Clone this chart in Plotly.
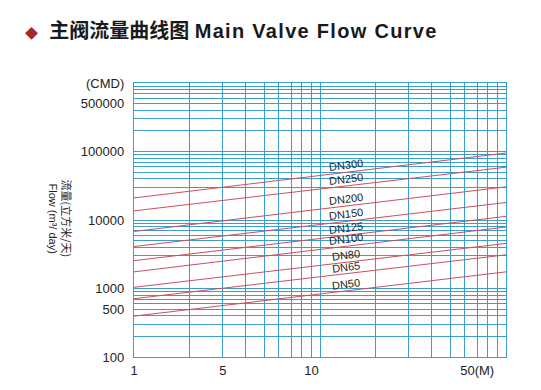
import plotly.graph_objects as go
import numpy as np

# ---- data ----
series_names = ["DN300", "DN250", "DN200", "DN150", "DN125", "DN100", "DN80", "DN65", "DN50"]
x_ends = [1, 100]
flow_start = [21000, 13600, 6800, 4100, 2550, 1750, 1040, 710, 395]     # flow at x = 1
flow_end = [95000, 59000, 30500, 18000, 11300, 7900, 4550, 3100, 1750]  # flow at x = 100

y_tick_vals = [100, 500, 1000, 10000, 100000, 500000, 1000000]
y_tick_text = ["100", "500", "1000", "10000", "100000", "500000", "(CMD)"]
# positions at which the reference prints its x labels
x_tick_vals = [1, 3, 9, 70]
x_tick_text = ["1", "5", "10", "50(M)"]

x_grid = [1, 2, 3, 4, 5, 6, 7, 8, 9, 10, 20, 30, 40, 50, 60, 70, 80, 90, 100]
y_grid = [100, 200, 300, 400, 500, 600, 700, 800, 900,
          1000, 3000, 4000, 5000, 6000, 7000, 8000, 9000,
          10000, 30000, 40000, 50000, 60000, 70000, 80000, 90000,
          100000, 200000, 300000, 400000, 500000, 600000, 700000, 800000, 900000, 1000000]

label_x = 13.8

title_cn = "主阀流量曲线图"
title_en = "Main Valve Flow Curve"
ytitle_cn = "流量(立方米/天)"
ytitle_en = "Flow (m³/ day)"

GRID = "#3b9dcb"
LINE = "#c9505e"
FONT = "Liberation Sans, Arial, Noto Sans CJK SC, sans-serif"

# page geometry (the page body adds an 8px offset)
OFF = 8
PX0, PX1, PY0, PY1 = 134, 506, 83, 362


def px_to_paper(px, py):
    return (px - PX0) / (PX1 - PX0), (PY1 - py) / (PY1 - PY0)


fig = go.Figure()
for name, a, b in zip(series_names, flow_start, flow_end):
    fig.add_trace(go.Scatter(x=x_ends, y=[a, b], mode="lines", name=name,
                             line=dict(color=LINE, width=1), hoverinfo="skip"))
    # label position: on the line at label_x (log-log interpolation)
    t = np.log10(label_x) / np.log10(x_ends[1] / x_ends[0])
    ly = np.log10(a) + (np.log10(b) - np.log10(a)) * t
    fig.add_annotation(x=np.log10(label_x), y=ly, xref="x", yref="y", text=name,
                       showarrow=False, yshift=7, textangle=-7,
                       font=dict(family=FONT, size=11, color="#222222"))

axis_common = dict(showgrid=True, gridcolor=GRID, gridwidth=1.3,
                   showline=True, linecolor=GRID, linewidth=1.3, mirror=True,
                   zeroline=False, ticks="outside", tickcolor="rgba(0,0,0,0)",
                   tickfont=dict(family=FONT, size=13, color="#222222"))

fig.update_xaxes(type="log", range=[0, 2], tickvals=x_tick_vals, ticktext=x_tick_text,
                 ticklen=1, **axis_common,
                 minor=dict(tickvals=x_grid, showgrid=True, gridcolor=GRID, gridwidth=1.3, ticks=""))
fig.update_yaxes(type="log", range=[2, 6], tickvals=y_tick_vals, ticktext=y_tick_text,
                 ticklen=6, **axis_common,
                 minor=dict(tickvals=y_grid, showgrid=True, gridcolor=GRID, gridwidth=1.3, ticks=""))

# title
tx, ty = px_to_paper(23, 30)
fig.add_annotation(xref="paper", yref="paper", x=tx, y=ty,
                   xanchor="left", yanchor="middle", showarrow=False,
                   text=('<span style="color:#a3282a;font-size:13px">◆</span>  '
                         f'<b>{title_cn}</b> '
                         f'<span style="letter-spacing:1.3px"><b>{title_en}</b></span>'),
                   font=dict(family="Liberation Sans, Noto Sans CJK SC, sans-serif", size=20, color="#1a1a1a"))

# y-axis titles (two rotated columns)
ex, ey = px_to_paper(53, 221)
fig.add_annotation(xref="paper", yref="paper", x=ex, y=ey,
                   xanchor="center", yanchor="middle", showarrow=False, textangle=90,
                   text=ytitle_en, font=dict(family=FONT, size=11, color="#222222"))
cx, cy = px_to_paper(67, 221)
fig.add_annotation(xref="paper", yref="paper", x=cx, y=cy,
                   xanchor="center", yanchor="middle", showarrow=False, textangle=90,
                   text=ytitle_cn, font=dict(family="Noto Sans CJK SC, sans-serif", size=11, color="#222222"))

fig.update_layout(width=541 - OFF, height=390 - OFF,
                  margin=dict(l=PX0 - OFF, r=541 - PX1, t=PY0 - OFF, b=390 - PY1, pad=0),
                  plot_bgcolor="white", paper_bgcolor="white", showlegend=False)

fig.write_html("out.html")
